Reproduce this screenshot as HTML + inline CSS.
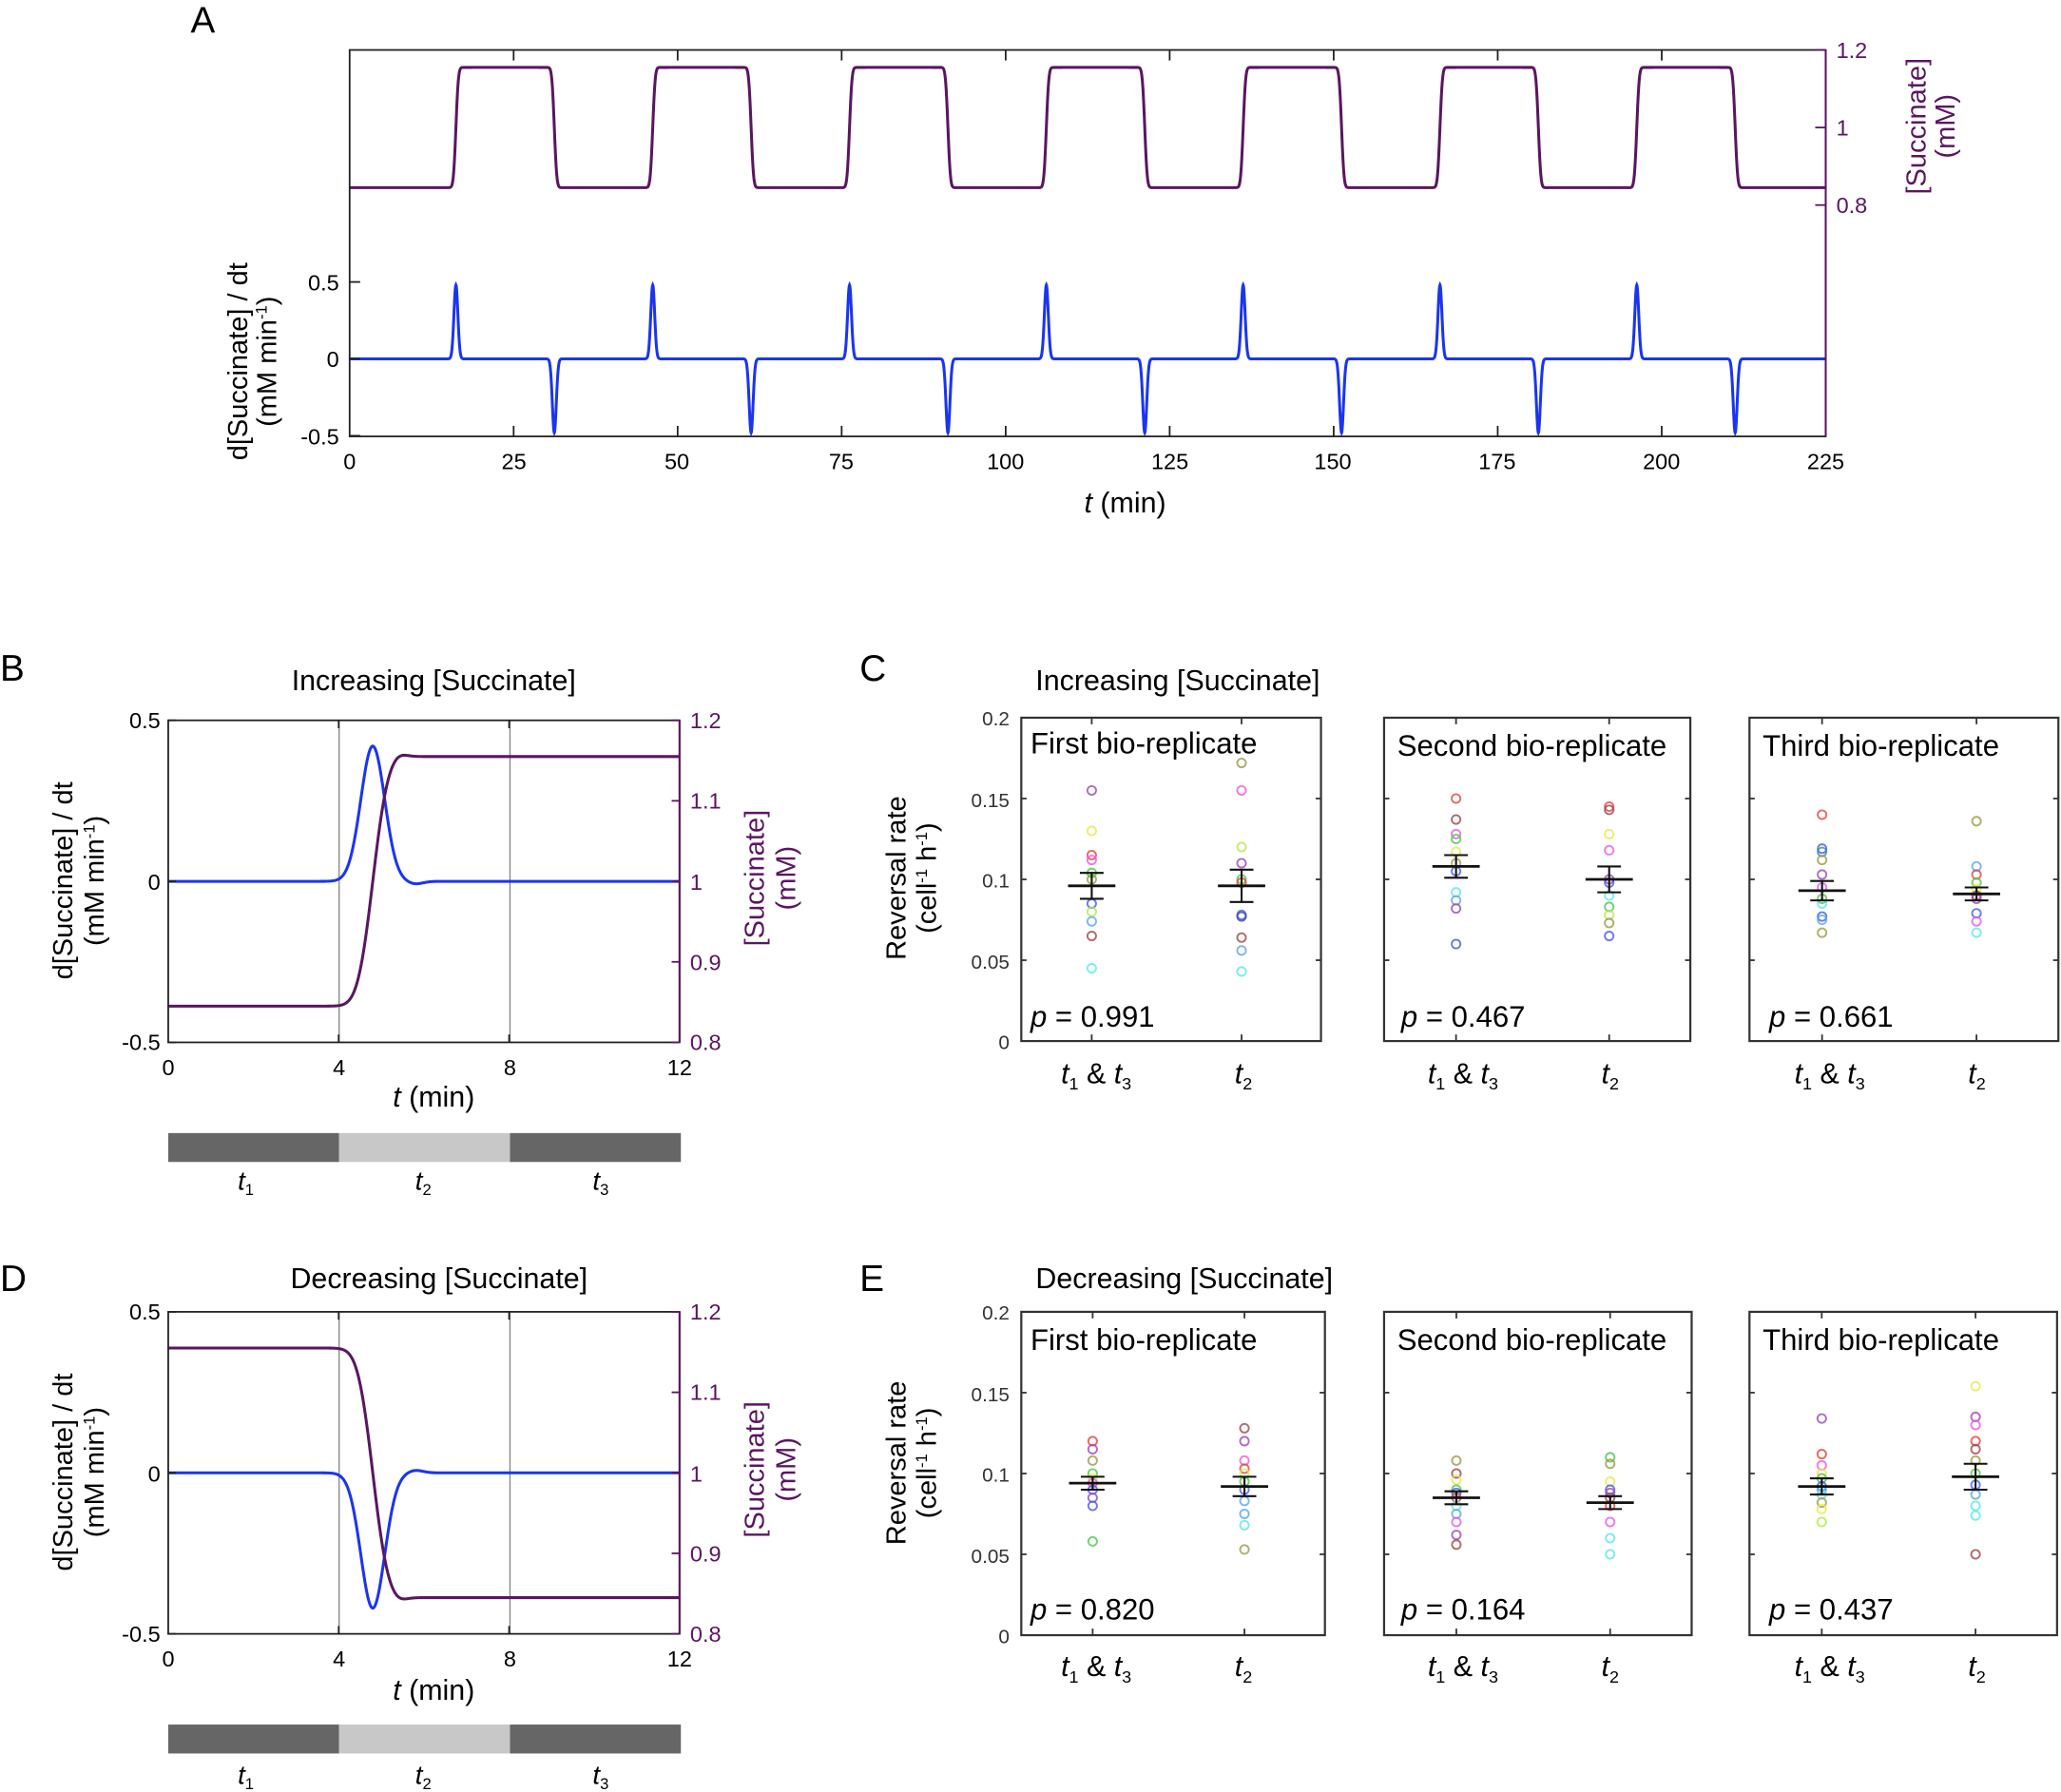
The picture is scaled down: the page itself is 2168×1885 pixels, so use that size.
<!DOCTYPE html>
<html><head><meta charset="utf-8"><style>
html,body{margin:0;padding:0;background:#fff}
svg{display:block}
text{font-family:"Liberation Sans",sans-serif}
</style></head><body>
<svg id="s" width="2168" height="1885" viewBox="0 0 1568 1363.3" xmlns="http://www.w3.org/2000/svg">
<rect width="1568" height="1364" fill="#fff"/>
<g id="g"></g>
<g font-size="28" fill="#000">
<text x="145" y="25">A</text>
<text x="0" y="518">B</text>
<text x="654" y="518">C</text>
<text x="0" y="982">D</text>
<text x="654" y="982">E</text>
</g>
<g font-size="17" fill="#000" text-anchor="middle">
<text x="266" y="357">0</text><text x="391" y="357">25</text><text x="515" y="357">50</text><text x="640" y="357">75</text><text x="765" y="357">100</text><text x="890" y="357">125</text><text x="1014" y="357">150</text><text x="1139" y="357">175</text><text x="1264" y="357">200</text><text x="1389" y="357">225</text>
<text x="856" y="390" font-size="22"><tspan font-style="italic">t</tspan> (min)</text>
</g>
<g font-size="17" text-anchor="end"><text x="258" y="221">0.5</text><text x="258" y="279">0</text><text x="258" y="338">-0.5</text></g>
<g font-size="17" fill="#5a1660"><text x="1397" y="44">1.2</text><text x="1397" y="103">1</text><text x="1397" y="162">0.8</text></g>
<g font-size="21" text-anchor="middle">
<text transform="translate(188,275) rotate(-90)">d[Succinate] / dt</text>
<text transform="translate(210,275) rotate(-90)">(mM min<tspan font-size="12" dy="-7">-1</tspan><tspan dy="7">)</tspan></text>
</g>
<g font-size="21" text-anchor="middle" fill="#5a1660">
<text transform="translate(1465,96) rotate(-90)">[Succinate]</text>
<text transform="translate(1487,96) rotate(-90)">(mM)</text>
</g>
<g font-size="22" text-anchor="middle">
<text x="330" y="525">Increasing [Succinate]</text>
<text x="334" y="980">Decreasing [Succinate]</text>
<text x="330" y="842"><tspan font-style="italic">t</tspan> (min)</text>
<text x="330" y="1293"><tspan font-style="italic">t</tspan> (min)</text>
<text x="896" y="525">Increasing [Succinate]</text>
<text x="901" y="980">Decreasing [Succinate]</text>
</g>
<g font-size="17" text-anchor="middle">
<text x="128" y="818">0</text><text x="258" y="818">4</text><text x="388" y="818">8</text><text x="517" y="818">12</text>
<text x="128" y="1268">0</text><text x="258" y="1268">4</text><text x="388" y="1268">8</text><text x="517" y="1268">12</text>
</g>
<g font-size="17" text-anchor="end">
<text x="122" y="554">0.5</text><text x="122" y="677">0</text><text x="122" y="799">-0.5</text>
<text x="122" y="1004">0.5</text><text x="122" y="1127">0</text><text x="122" y="1249">-0.5</text>
</g>
<g font-size="17" fill="#5a1660">
<text x="525" y="554">1.2</text><text x="525" y="615">1.1</text><text x="525" y="677">1</text><text x="525" y="738">0.9</text><text x="525" y="799">0.8</text>
<text x="525" y="1004">1.2</text><text x="525" y="1065">1.1</text><text x="525" y="1127">1</text><text x="525" y="1188">0.9</text><text x="525" y="1249">0.8</text>
</g>
<g font-size="21" text-anchor="middle">
<text transform="translate(55,670) rotate(-90)">d[Succinate] / dt</text>
<text transform="translate(79,670) rotate(-90)">(mM min<tspan font-size="12" dy="-7">-1</tspan><tspan dy="7">)</tspan></text>
<text transform="translate(55,1120) rotate(-90)">d[Succinate] / dt</text>
<text transform="translate(79,1120) rotate(-90)">(mM min<tspan font-size="12" dy="-7">-1</tspan><tspan dy="7">)</tspan></text>
</g>
<g font-size="21" text-anchor="middle" fill="#5a1660">
<text transform="translate(581,668) rotate(-90)">[Succinate]</text>
<text transform="translate(605,668) rotate(-90)">(mM)</text>
<text transform="translate(581,1118) rotate(-90)">[Succinate]</text>
<text transform="translate(605,1118) rotate(-90)">(mM)</text>
</g>
<rect x="128" y="862" width="130" height="22" fill="#666"/><rect x="258" y="862" width="130" height="22" fill="#c8c8c8"/><rect x="388" y="862" width="130" height="22" fill="#666"/>
<rect x="128" y="1312" width="130" height="22" fill="#666"/><rect x="258" y="1312" width="130" height="22" fill="#c8c8c8"/><rect x="388" y="1312" width="130" height="22" fill="#666"/>
<g font-size="20" font-style="italic" text-anchor="middle">
<text x="187" y="905">t<tspan font-size="12" dy="4" font-style="normal">1</tspan></text>
<text x="322" y="905">t<tspan font-size="12" dy="4" font-style="normal">2</tspan></text>
<text x="457" y="905">t<tspan font-size="12" dy="4" font-style="normal">3</tspan></text>
<text x="187" y="1357">t<tspan font-size="12" dy="4" font-style="normal">1</tspan></text>
<text x="322" y="1357">t<tspan font-size="12" dy="4" font-style="normal">2</tspan></text>
<text x="457" y="1357">t<tspan font-size="12" dy="4" font-style="normal">3</tspan></text>
</g>
<g font-size="15" fill="#333" text-anchor="end">
<text x="768" y="552">0.2</text><text x="768" y="614">0.15</text><text x="768" y="675">0.1</text><text x="768" y="737">0.05</text><text x="768" y="798">0</text>
<text x="768" y="1004">0.2</text><text x="768" y="1066">0.15</text><text x="768" y="1127">0.1</text><text x="768" y="1189">0.05</text><text x="768" y="1250">0</text>
</g>
<g font-size="21" text-anchor="middle">
<text transform="translate(689,668) rotate(-90)">Reversal rate</text>
<text transform="translate(712,668) rotate(-90)">(cell<tspan font-size="12" dy="-7">-1</tspan><tspan dy="7"> h</tspan><tspan font-size="12" dy="-7">-1</tspan><tspan dy="7">)</tspan></text>
<text transform="translate(689,1113) rotate(-90)">Reversal rate</text>
<text transform="translate(712,1113) rotate(-90)">(cell<tspan font-size="12" dy="-7">-1</tspan><tspan dy="7"> h</tspan><tspan font-size="12" dy="-7">-1</tspan><tspan dy="7">)</tspan></text>
</g>
<g font-size="22.5">
<text x="784" y="573">First bio-replicate</text><text x="1063" y="575">Second bio-replicate</text><text x="1341" y="575">Third bio-replicate</text>
<text x="784" y="1027">First bio-replicate</text><text x="1063" y="1027">Second bio-replicate</text><text x="1341" y="1027">Third bio-replicate</text>
<text x="784" y="781"><tspan font-style="italic">p</tspan> = 0.991</text><text x="1066" y="781"><tspan font-style="italic">p</tspan> = 0.467</text><text x="1346" y="781"><tspan font-style="italic">p</tspan> = 0.661</text>
<text x="784" y="1232"><tspan font-style="italic">p</tspan> = 0.820</text><text x="1066" y="1232"><tspan font-style="italic">p</tspan> = 0.164</text><text x="1346" y="1232"><tspan font-style="italic">p</tspan> = 0.437</text>
</g>
<g font-size="22" text-anchor="middle" font-style="italic">
<text x="834" y="824">t<tspan font-size="13" dy="5" font-style="normal">1</tspan><tspan dy="-5" font-style="normal"> &amp; </tspan>t<tspan font-size="13" dy="5" font-style="normal">3</tspan></text>
<text x="946" y="824">t<tspan font-size="13" dy="5" font-style="normal">2</tspan></text>
<text x="1113" y="824">t<tspan font-size="13" dy="5" font-style="normal">1</tspan><tspan dy="-5" font-style="normal"> &amp; </tspan>t<tspan font-size="13" dy="5" font-style="normal">3</tspan></text>
<text x="1225" y="824">t<tspan font-size="13" dy="5" font-style="normal">2</tspan></text>
<text x="1392" y="824">t<tspan font-size="13" dy="5" font-style="normal">1</tspan><tspan dy="-5" font-style="normal"> &amp; </tspan>t<tspan font-size="13" dy="5" font-style="normal">3</tspan></text>
<text x="1504" y="824">t<tspan font-size="13" dy="5" font-style="normal">2</tspan></text>
<text x="834" y="1275">t<tspan font-size="13" dy="5" font-style="normal">1</tspan><tspan dy="-5" font-style="normal"> &amp; </tspan>t<tspan font-size="13" dy="5" font-style="normal">3</tspan></text>
<text x="946" y="1275">t<tspan font-size="13" dy="5" font-style="normal">2</tspan></text>
<text x="1113" y="1275">t<tspan font-size="13" dy="5" font-style="normal">1</tspan><tspan dy="-5" font-style="normal"> &amp; </tspan>t<tspan font-size="13" dy="5" font-style="normal">3</tspan></text>
<text x="1225" y="1275">t<tspan font-size="13" dy="5" font-style="normal">2</tspan></text>
<text x="1392" y="1275">t<tspan font-size="13" dy="5" font-style="normal">1</tspan><tspan dy="-5" font-style="normal"> &amp; </tspan>t<tspan font-size="13" dy="5" font-style="normal">3</tspan></text>
<text x="1504" y="1275">t<tspan font-size="13" dy="5" font-style="normal">2</tspan></text>
</g>
</svg>
<script>
(function(){
var NS="http://www.w3.org/2000/svg",g=document.getElementById("g");
function el(n,a){var e=document.createElementNS(NS,n);for(var k in a)e.setAttribute(k,a[k]);g.appendChild(e);return e;}
function line(x1,y1,x2,y2,c,w){el("line",{x1:x1,y1:y1,x2:x2,y2:y2,stroke:c,"stroke-width":w||1.3});}
function erf(x){var s=x<0?-1:1;x=Math.abs(x);var t=1/(1+0.3275911*x);var y=1-(((((1.061405429*t-1.453152027)*t)+1.421413741)*t-0.284496736)*t+0.254829592)*t*Math.exp(-x*x);return s*y;}
function Phi(z){return 0.5*(1+erf(z/Math.SQRT2));}
var PUR="#5a1660",BLU="#1a35f0";
var X0=266,X1=1389,sx=(X1-X0)/225;
function ly(v){return 273-v*117;} function ry(v){return 97-(v-1)*295;}
var sig=0.3,pp="",bp="";
for(var t=0;t<=225;t+=0.04){
 var c=0.845,d=0;
 for(var k=0;k<7;k++){var r=16.2+30*k,f=31.2+30*k;
  c+=0.31*Phi((t-r)/sig); c-=0.31*Phi((t-f)/sig);
  d+=0.48*Math.exp(-Math.pow((t-r)/sig,2)/2); d-=0.48*Math.exp(-Math.pow((t-f)/sig,2)/2);}
 var x=X0+t*sx; pp+=(pp?"L":"M")+x.toFixed(2)+" "+ry(c).toFixed(2); bp+=(bp?"L":"M")+x.toFixed(2)+" "+ly(d).toFixed(2);}
el("path",{d:pp,fill:"none",stroke:PUR,"stroke-width":2.2});
el("path",{d:bp,fill:"none",stroke:BLU,"stroke-width":2.2});
el("rect",{x:X0,y:38,width:X1-X0,height:294,fill:"none",stroke:"#222","stroke-width":1.3});
line(X1,38,X1,332,PUR,1.5);
for(var i=1;i<9;i++){var x=X0+i*25*sx;line(x,38,x,46,"#222");line(x,332,x,324,"#222");}
[0.5,0,-0.5].forEach(function(v){line(X0,ly(v),X0+8,ly(v),"#222");});
[1.2,1,0.8].forEach(function(v){line(X1,ry(v),X1-8,ry(v),PUR);});
function panelBD(top,dir){
 var bx0=128,bx1=517,sxx=(bx1-bx0)/12,h=245;
 function ly2(v){return top+h/2-v*h;} function ry2(v){return top+h/2-(v-1)*h/0.4;}
 line(258,top,258,top+h,"#888",1);line(388,top,388,top+h,"#888",1);
 var p1="",p2="";
 for(var t=0;t<=12;t+=0.02){var x=bx0+t*sxx;
  var d=0.42*Math.exp(-Math.pow((t-4.8)/0.28,2)/2)-0.008*Math.exp(-Math.pow((t-5.8)/0.25,2));
  var c=0.31*Phi((t-4.8)/0.28)+0.004*Math.exp(-Math.pow((t-5.4)/0.25,2));
  var cc=dir>0?0.845+c:1.155-c, dd=dir>0?d:-d;
  p1+=(p1?"L":"M")+x.toFixed(2)+" "+ly2(dd).toFixed(2); p2+=(p2?"L":"M")+x.toFixed(2)+" "+ry2(cc).toFixed(2);}
 el("path",{d:p1,fill:"none",stroke:BLU,"stroke-width":2.2});
 el("path",{d:p2,fill:"none",stroke:PUR,"stroke-width":2.2});
 el("rect",{x:bx0,y:top,width:bx1-bx0,height:h,fill:"none",stroke:"#222","stroke-width":1.3});
 line(bx1,top,bx1,top+h,PUR,1.5);
 [4,8].forEach(function(t){var x=bx0+t*sxx;line(x,top+h,x,top+h-6,"#222");line(x,top,x,top+6,"#222");});
 [0.5,0,-0.5].forEach(function(v){line(bx0,ly2(v),bx0+6,ly2(v),"#222");});
 [1.2,1.1,1,0.9,0.8].forEach(function(v){line(bx1,ry2(v),bx1-6,ry2(v),PUR);});
}
panelBD(548,1);panelBD(998,-1);
var COL={r:"#e8413f",br:"#9b4a4a",m:"#e95ae8",y:"#e8e84a",gr:"#4ac84a",b:"#4a5ae8",c:"#5ae8e8",p:"#9b4ab4",o:"#9b9b4a",lb:"#5aa8e8",yg:"#b4e84a",db:"#3a4a9b",t:"#3a8a9b"};
function box(x0,x1,top,cols){
 var h=246; function yy(v){return top+h-v/0.2*h;}
 var cx=[x0+(x1-x0)*0.235,x0+(x1-x0)*0.735];
 cols.forEach(function(cd,i){
  cd.pts.forEach(function(p){el("circle",{cx:cx[i],cy:yy(p[0]),r:3.3,fill:"none",stroke:COL[p[1]],"stroke-width":1.4,"stroke-opacity":0.8});});
  var m=yy(cd.m),e1=yy(cd.m+cd.e),e2=yy(cd.m-cd.e);
  line(cx[i]-18,m,cx[i]+18,m,"#111",2);line(cx[i],e1,cx[i],e2,"#111",1.5);
  line(cx[i]-9,e1,cx[i]+9,e1,"#111",1.5);line(cx[i]-9,e2,cx[i]+9,e2,"#111",1.5);
 });
 el("rect",{x:x0,y:top,width:x1-x0,height:h,fill:"none",stroke:"#333","stroke-width":1.6});
 [0.05,0.1,0.15].forEach(function(v){line(x0,yy(v),x0+4,yy(v),"#333");line(x1,yy(v),x1-4,yy(v),"#333");});
 cx.forEach(function(x){line(x,top,x,top+5,"#333");line(x,top+h,x,top+h-5,"#333");});
}
function P(s){return s.split(",").map(function(q){var a=q.split(":");return [parseFloat(a[0]),a[1]];});}
box(777,1005,546,[{m:.096,e:.008,pts:P(".155:p,.13:y,.115:r,.112:m,.104:gr,.1:o,.085:b,.08:yg,.074:lb,.065:br,.045:c")},
 {m:.096,e:.01,pts:P(".172:o,.155:m,.12:yg,.11:p,.1:gr,.098:r,.078:b,.077:db,.064:br,.056:lb,.043:c")}]);
box(1053,1286,546,[{m:.108,e:.007,pts:P(".15:r,.137:br,.128:m,.125:gr,.117:y,.11:o,.105:b,.092:c,.087:lb,.082:p,.06:b")},
 {m:.1,e:.008,pts:P(".145:r,.143:br,.128:y,.118:m,.1:p,.098:b,.09:c,.083:gr,.078:yg,.073:o,.065:b")}]);
box(1331,1566,546,[{m:.093,e:.006,pts:P(".14:r,.119:b,.117:t,.112:o,.103:p,.095:m,.088:gr,.085:c,.077:b,.075:lb,.067:o")},
 {m:.091,e:.004,pts:P(".136:o,.108:lb,.103:r,.098:gr,.094:y,.09:br,.088:p,.079:b,.074:m,.067:c")}]);
box(777,1008,998,[{m:.094,e:.004,pts:P(".12:r,.115:p,.108:o,.1:gr,.097:y,.094:m,.09:b,.085:p,.08:b,.058:gr")},
 {m:.092,e:.006,pts:P(".128:br,.12:p,.108:m,.103:r,.1:y,.095:gr,.09:b,.083:lb,.075:lb,.068:c,.053:o")}]);
box(1053,1287,998,[{m:.085,e:.004,pts:P(".108:o,.1:br,.096:y,.09:gr,.088:b,.085:r,.08:c,.075:lb,.07:m,.062:p,.056:br")},
 {m:.082,e:.004,pts:P(".11:gr,.106:o,.095:y,.09:b,.088:p,.085:br,.08:r,.07:m,.06:c,.05:c")}]);
box(1331,1565,998,[{m:.092,e:.005,pts:P(".134:p,.112:r,.105:m,.1:y,.097:gr,.092:b,.09:lb,.087:c,.082:o,.078:y,.07:yg")},
 {m:.098,e:.008,pts:P(".154:y,.135:p,.13:m,.12:r,.115:br,.108:o,.1:gr,.093:b,.087:lb,.08:c,.074:c,.05:br")}]);
})();
</script>
</body></html>
